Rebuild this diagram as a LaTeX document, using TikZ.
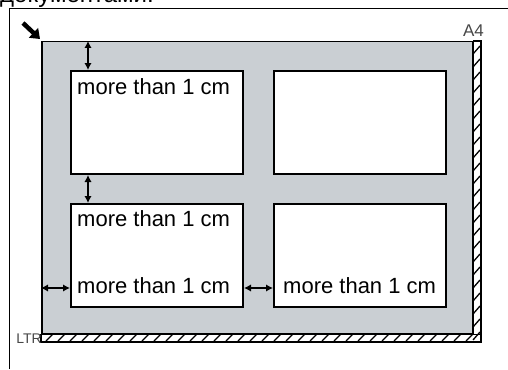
\documentclass[tikz,border=0pt]{standalone}
\usepackage{fontspec}
\setmainfont{Liberation Sans}
\usepackage{tikz}
\usetikzlibrary{arrows.meta}

\definecolor{platengray}{RGB}{202,207,211}
\definecolor{markgray}{RGB}{70,70,70}

\begin{document}
\begin{tikzpicture}[
  x=1pt,y=-1pt,>=Stealth,
  docbox/.style={draw,line width=2pt,fill=white,anchor=north west,
    minimum width=172,minimum height=103,inner sep=0pt},
  dim/.style={<->,line width=2.6pt,>={Latex[length=7pt,width=7.5pt]}},
  lbl/.style={anchor=base west,inner sep=0pt,font=\fontsize{22}{26}\selectfont},
  hatch/.style={line width=1.3pt}
]
\useasboundingbox (0,0) rectangle (508,369);

%--------------------
% 上の文（切れている）
%--------------------
\node[anchor=base west,inner sep=0pt,font=\fontsize{24}{28}\selectfont]
  (cap) at (0,2.5) {документами.};

% 外枠
\draw[line width=1.8pt] (9.5,369) -- (9.5,8.5) -- (508,8.5);

% 角の矢印
\coordinate (m0) at (23,23);
\coordinate (m1) at (40,39);
\draw[line width=4.5pt,-{Triangle[length=9pt,width=13pt]}] (m0) -- (m1);

%--------------------
% 原稿台
%--------------------
\node[draw,line width=1.5pt,fill=platengray,anchor=north west,
  minimum width=431,minimum height=292,inner sep=0pt] (pl) at (41,41) {};

% 斜線の帯
\coordinate (s) at (481,342);
\draw[line width=1.5pt,fill=white] (pl.north east) rectangle (s);
\draw[line width=1.5pt,fill=white] (pl.south west) rectangle (s);
\foreach \y in {50,63,...,336}
  \draw[hatch] (473,\y+4) -- (480,\y-4);
\foreach \x in {46,58,...,470}
  \draw[hatch] (\x,341) -- (\x+7,334);

\node[anchor=base east,inner sep=0pt,text=markgray,
  font=\fontsize{17}{20}\selectfont] (a4) at (484,37) {A4};
\node[anchor=base east,inner sep=0pt,text=markgray,
  font=\fontsize{14}{16}\selectfont] (ltr) at (42,343) {LTR};

%--------------------
% 原稿
%--------------------
\node[docbox] (d1) at (70,70) {};
\node[docbox] (d2) at (273,70) {};
\node[docbox] (d3) at (70,203) {};
\node[docbox] (d4) at (273,203) {};

\node[lbl] (t1) at (77,94) {more than 1 cm};
\node[lbl] (t3) at (77,226) {more than 1 cm};
\node[lbl] (t5) at (77,293) {more than 1 cm};
\node[lbl] (t6) at (283,293) {more than 1 cm};

% 間隔の矢印
\coordinate (u) at (88,0);
\coordinate (h) at (0,288);
\draw[dim] (pl.north -| u) -- (d1.north -| u);
\draw[dim] (d1.south -| u) -- (d3.north -| u);
\draw[dim] (pl.west |- h) -- (d3.west |- h);
\draw[dim] (d3.east |- h) -- (d4.west |- h);

\end{tikzpicture}
\end{document}
